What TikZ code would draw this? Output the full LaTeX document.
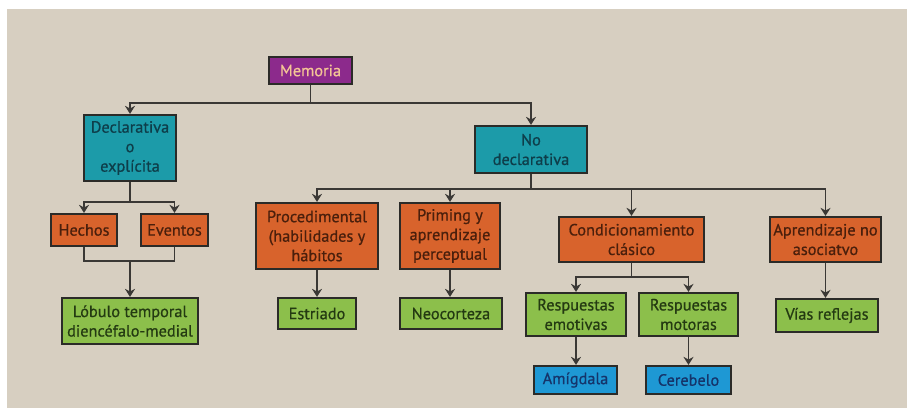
\documentclass[tikz,border=0pt]{standalone}
\usepackage{fontspec}
\setmainfont{PT Sans}[BoldFont=PT Sans, BoldFeatures={FakeBold=0.7}]
\usetikzlibrary{arrows.meta}

\definecolor{fondo}{HTML}{D7CFC1}
\definecolor{borde}{HTML}{2B2B28}
\definecolor{linea}{HTML}{3A3835}
\definecolor{morado}{HTML}{8C2A8C}
\definecolor{txtmorado}{HTML}{F3C595}
\definecolor{turquesa}{HTML}{1C9BA9}
\definecolor{txtturquesa}{HTML}{0E3E4A}
\definecolor{naranja}{HTML}{D8632C}
\definecolor{txtnaranja}{HTML}{4A1F0C}
\definecolor{verde}{HTML}{8CBF4B}
\definecolor{txtverde}{HTML}{243A12}
\definecolor{azul}{HTML}{1E98D4}
\definecolor{txtazul}{HTML}{15346A}

\begin{document}
\begin{tikzpicture}[
    x=1pt, y=-1pt,
    caja/.style={rectangle, draw=borde, line width=2.2pt, align=center, inner sep=0pt,
                 font=\fontsize{16.3}{19.5}\selectfont\bfseries},
    raiz/.style={caja, fill=morado, text=txtmorado},
    tipo/.style={caja, fill=turquesa, text=txtturquesa},
    rama/.style={caja, fill=naranja, text=txtnaranja},
    zona/.style={caja, fill=verde, text=txtverde},
    region/.style={caja, fill=azul, text=txtazul},
    conector/.style={draw=linea, line width=1.8pt},
    flecha/.style={conector, -{Stealth[length=8pt,width=10pt,inset=2.5pt]}}
]
    % fondo
    \fill[white] (0,0) rectangle (907,408);
    \fill[fondo] (7,9) rectangle (907,408);

    \node[raiz, minimum width=83pt, minimum height=27pt] (memoria) at (310.5,70.5) {Memoria};

    \node[tipo, minimum width=92pt, minimum height=66pt] (declarativa) at (130,148) {Declarativa\\o\\explícita};
    \node[tipo, minimum width=112pt, minimum height=47pt] (nodeclarativa) at (531,149.5) {No\\declarativa};

    \node[rama, minimum width=66pt, minimum height=32pt] (hechos) at (84,230) {Hechos};
    \node[rama, minimum width=67pt, minimum height=32pt] (eventos) at (174.5,230) {Eventos};
    \node[zona, minimum width=136pt, minimum height=46pt] (lobulo) at (130,321) {Lóbulo temporal\\diencéfalo-medial};

    \node[rama, minimum width=122pt, minimum height=66pt] (procedimental) at (317,236) {Procedimental\\(habilidades y\\hábitos};
    \node[rama, minimum width=100pt, minimum height=66pt] (priming) at (450,236) {Priming y\\aprendizaje\\perceptual};
    \node[rama, minimum width=145pt, minimum height=45pt] (condicionamiento) at (631.5,239.5) {Condicionamiento\\clásico};
    \node[rama, minimum width=111pt, minimum height=45pt] (noasociativo) at (825.5,239.5) {Aprendizaje no\\asociatvo};

    \node[zona, minimum width=78pt, minimum height=31pt] (estriado) at (317,313.5) {Estriado};
    \node[zona, minimum width=102pt, minimum height=31pt] (neocorteza) at (451,313.5) {Neocorteza};
    \node[zona, minimum width=100pt, minimum height=43pt] (emotivas) at (576,314.5) {Respuestas\\emotivas};
    \node[zona, minimum width=99pt, minimum height=43pt] (motoras) at (688.5,314.5) {Respuestas\\motoras};
    \node[zona, minimum width=102pt, minimum height=33pt] (reflejas) at (827,315.5) {Vías reflejas};

    \node[region, minimum width=83pt, minimum height=28pt] (amigdala) at (575.5,380) {Amígdala};
    \node[region, minimum width=85pt, minimum height=28pt] (cerebelo) at (688.5,380) {Cerebelo};

    % ramas de memoria
    \draw[flecha] (memoria.south) -- ++(0,18) -| (declarativa.north);
    \draw[flecha] (memoria.south) -- ++(0,18) -| (nodeclarativa.north);

    % declarativa
    \draw[flecha] (declarativa.south) -- ++(0,20) -| (hechos.north);
    \draw[flecha] (declarativa.south) -- ++(0,20) -| (eventos.north);
    \draw[conector] (hechos.south) -- ++(0,14) -| (eventos.south);
    \coordinate (union) at (130,260);
    \draw[flecha] (union) -- (lobulo.north);

    % no declarativa
    \draw[flecha] (nodeclarativa.south) -- ++(0,15) -| (procedimental.north);
    \draw[flecha] (nodeclarativa.south) -- ++(0,15) -| (priming.north);
    \draw[flecha] (nodeclarativa.south) -- ++(0,15) -| (condicionamiento.north);
    \draw[flecha] (nodeclarativa.south) -- ++(0,15) -| (noasociativo.north);

    \draw[flecha] (procedimental.south) -- (estriado.north);
    \draw[flecha] (priming.south) -- (priming.south |- neocorteza.north);
    \draw[flecha] (condicionamiento.south) -- ++(0,14) -| (emotivas.north);
    \draw[flecha] (condicionamiento.south) -- ++(0,14) -| (motoras.north);
    \draw[flecha] (noasociativo.south) -- (noasociativo.south |- reflejas.north);
    \draw[flecha] (emotivas.south) -- (emotivas.south |- amigdala.north);
    \draw[flecha] (motoras.south) -- (cerebelo.north);
\end{tikzpicture}
\end{document}
